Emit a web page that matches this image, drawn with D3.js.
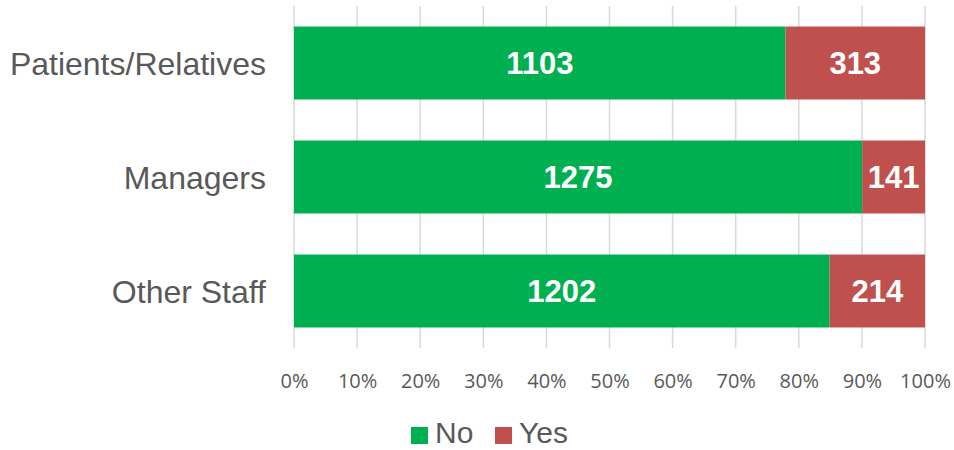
<!DOCTYPE html>
<html>
<head>
<meta charset="utf-8">
<script src="https://cdn.jsdelivr.net/npm/d3@7"></script>
<style>
  body { margin: 0; background: #fff; }
</style>
</head>
<body>
<svg id="chart" width="954" height="450"></svg>
<script>
// chart data
const categories = ["Patients/Relatives", "Managers", "Other Staff"];
const noValues = [1103, 1275, 1202];
const yesValues = [313, 141, 214];
const seriesNames = ["No", "Yes"];
const tickValues = [0, 0.1, 0.2, 0.3, 0.4, 0.5, 0.6, 0.7, 0.8, 0.9, 1];

const colors = { No: "#00B050", Yes: "#C0504D" };

const rows = categories.map((c, i) => ({ category: c, No: noValues[i], Yes: yesValues[i] }));

const svg = d3.select("#chart");

const x = d3.scaleLinear().domain([0, 1]).range([294, 925]);
const y = d3.scaleBand().domain(categories).range([6, 348]).paddingInner(0.36).paddingOuter(0.18);

// gridlines
svg.append("g")
    .selectAll("line")
    .data(tickValues)
    .enter().append("line")
    .attr("x1", d => x(d)).attr("x2", d => x(d))
    .attr("y1", 6).attr("y2", 348)
    .attr("stroke", "#d9d9d9")
    .attr("stroke-width", 1.5);

// stack to percentages
const stacked = d3.stack().keys(seriesNames).offset(d3.stackOffsetExpand)(rows);

const layers = svg.append("g").selectAll("g")
    .data(stacked)
    .enter().append("g")
    .attr("fill", d => colors[d.key]);

layers.selectAll("rect")
    .data(d => d.map(p => ({ p: p, key: d.key })))
    .enter().append("rect")
    .attr("x", d => x(d.p[0]))
    .attr("width", d => x(d.p[1]) - x(d.p[0]))
    .attr("y", d => y(d.p.data.category))
    .attr("height", y.bandwidth());

// value labels
layers.selectAll("text")
    .data(d => d.map(p => ({ p: p, key: d.key })))
    .enter().append("text")
    .attr("x", d => (x(d.p[0]) + x(d.p[1])) / 2)
    .attr("y", d => y(d.p.data.category) + y.bandwidth() / 2)
    .attr("dy", "0.36em")
    .attr("text-anchor", "middle")
    .attr("fill", "#fff")
    .attr("font-family", "Liberation Sans, Arial, sans-serif")
    .attr("font-weight", "bold")
    .attr("font-size", 31)
    .text(d => d.p.data[d.key]);

// category labels
svg.append("g")
    .selectAll("text")
    .data(categories)
    .enter().append("text")
    .attr("x", 266)
    .attr("y", d => y(d) + y.bandwidth() / 2)
    .attr("dy", "0.36em")
    .attr("text-anchor", "end")
    .attr("fill", "#595959")
    .attr("font-family", "Liberation Sans, Arial, sans-serif")
    .attr("font-size", 32)
    .text(d => d);

// x axis
const xAxis = svg.append("g")
    .attr("transform", "translate(0,371)")
    .call(d3.axisBottom(x).tickValues(tickValues).tickFormat(d3.format(".0%")).tickSize(0));
xAxis.select(".domain").remove();
xAxis.selectAll("text")
    .attr("fill", "#595959")
    .attr("font-family", "Open Sans, sans-serif")
    .attr("font-size", 20);

// legend
const legend = svg.append("g").attr("transform", "translate(411,436)");
const legendX = [0, 84];
seriesNames.forEach((s, i) => {
    const g = legend.append("g").attr("transform", `translate(${legendX[i]},0)`);
    g.append("rect").attr("x", 0).attr("y", -9).attr("width", 17).attr("height", 17).attr("fill", colors[s]);
    g.append("text")
        .attr("x", 24).attr("y", 7)
        .attr("fill", "#595959")
        .attr("font-family", "Liberation Sans, Arial, sans-serif")
        .attr("font-size", 30)
        .text(s);
});
</script>
</body>
</html>
